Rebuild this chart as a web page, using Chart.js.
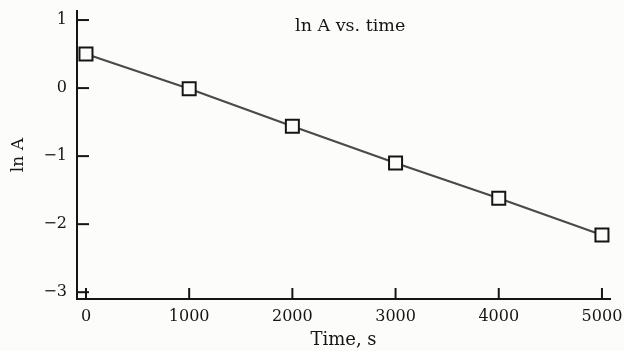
<!DOCTYPE html>
<html>
<head>
<meta charset="utf-8">
<script src="https://cdn.jsdelivr.net/npm/chart.js@4/dist/chart.umd.min.js"></script>
<style>
  html, body { margin: 0; padding: 0; background: #fcfcfb; }
  canvas { display: block; }
</style>
</head>
<body>
<canvas id="chart" width="624" height="351"></canvas>
<script>
const times = [0, 1000, 2000, 3000, 4000, 5000];
const lnA = [0.5, -0.01, -0.56, -1.1, -1.62, -2.16];
const xTicks = [0, 1000, 2000, 3000, 4000, 5000];
const yTicks = [-3, -2, -1, 0, 1];

const serif = "'DejaVu Serif', serif";
const ink = "#151515";

const fmtMinus = (v) => (v < 0 ? "\u2212" + Math.abs(v) : String(v));

// ticks point inward in the original, so draw them by hand
const inwardTicks = {
  id: "inwardTicks",
  afterDraw(chart) {
    const { ctx, chartArea, scales } = chart;
    ctx.save();
    ctx.strokeStyle = ink;
    ctx.lineWidth = 2;
    xTicks.forEach((v) => {
      const px = scales.x.getPixelForValue(v);
      ctx.beginPath();
      ctx.moveTo(px, chartArea.bottom);
      ctx.lineTo(px, chartArea.bottom - 11);
      ctx.stroke();
    });
    yTicks.forEach((v) => {
      const py = scales.y.getPixelForValue(v);
      ctx.beginPath();
      ctx.moveTo(chartArea.left, py);
      ctx.lineTo(chartArea.left + 12, py);
      ctx.stroke();
    });
    ctx.restore();
  },
};

const innerTitle = {
  id: "innerTitle",
  afterDraw(chart) {
    const { ctx, scales } = chart;
    ctx.save();
    ctx.fillStyle = ink;
    ctx.font = "17.5px " + serif;
    ctx.textAlign = "center";
    ctx.textBaseline = "middle";
    ctx.fillText("ln A vs. time", scales.x.getPixelForValue(2560), scales.y.getPixelForValue(0.91));
    ctx.restore();
  },
};

new Chart(document.getElementById("chart"), {
  type: "scatter",
  data: {
    datasets: [
      {
        data: times.map((t, i) => ({ x: t, y: lnA[i] })),
        showLine: true,
        borderColor: "#4a4a4a",
        borderWidth: 2.2,
        pointStyle: "rect",
        pointRadius: 9.2,
        pointHoverRadius: 9.2,
        pointBorderColor: ink,
        pointBorderWidth: 2,
        pointBackgroundColor: "#fcfcfb",
      },
    ],
  },
  options: {
    responsive: false,
    animation: false,
    events: [],
    layout: {
      padding: { left: 0, right: 14, top: 10, bottom: 0 },
    },
    scales: {
      x: {
        type: "linear",
        min: -87,
        max: 5078,
        afterFit: (s) => { s.height = 52; s.paddingLeft = 0; s.paddingRight = 0; },
        afterBuildTicks: (s) => { s.ticks = xTicks.map((v) => ({ value: v })); },
        grid: { display: false, drawTicks: false },
        border: { display: true, color: ink, width: 2 },
        ticks: {
          padding: 8,
          color: ink,
          font: { family: serif, size: 16 },
          callback: fmtMinus,
        },
        title: {
          display: true,
          text: "Time, s",
          color: ink,
          font: { family: serif, size: 18 },
          padding: { top: 0, bottom: 0 },
        },
      },
      y: {
        type: "linear",
        min: -3.1,
        max: 1.13,
        afterFit: (s) => { s.width = 77; s.paddingTop = 0; s.paddingBottom = 0; },
        afterBuildTicks: (s) => { s.ticks = yTicks.map((v) => ({ value: v })); },
        grid: { display: false, drawTicks: false },
        border: { display: true, color: ink, width: 2 },
        ticks: {
          padding: 10,
          color: ink,
          font: { family: serif, size: 16 },
          callback: fmtMinus,
        },
        title: {
          display: true,
          text: "ln A",
          color: ink,
          font: { family: serif, size: 17 },
          padding: { top: 8, bottom: 0 },
        },
      },
    },
    plugins: {
      legend: { display: false },
      tooltip: { enabled: false },
      title: { display: false },
    },
  },
  plugins: [inwardTicks, innerTitle],
});
</script>
</body>
</html>
